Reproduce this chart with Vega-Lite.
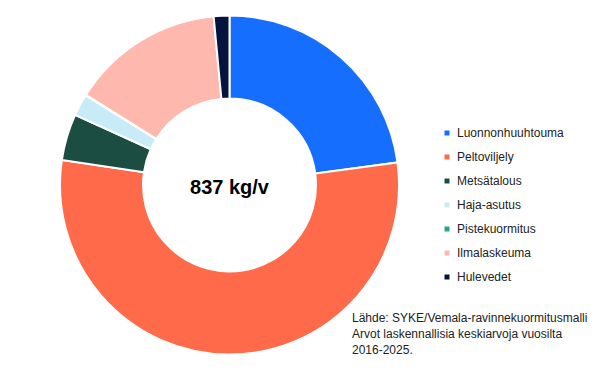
{
  "$schema": "https://vega.github.io/schema/vega-lite/v6.json",
  "width": 459,
  "height": 370,
  "autosize": {"type": "none"},
  "padding": {"left": 0, "top": 0, "right": 141, "bottom": 3},
  "background": "white",
  "config": {"view": {"stroke": null}, "font": "Liberation Sans"},
  "layer": [
    {
      "data": {
        "values": [
          {"lahde": "Luonnonhuuhtouma", "kg": 191.5, "ord": 1},
          {"lahde": "Peltoviljely", "kg": 456, "ord": 2},
          {"lahde": "Metsätalous", "kg": 37, "ord": 3},
          {"lahde": "Haja-asutus", "kg": 17.5, "ord": 4},
          {"lahde": "Pistekuormitus", "kg": 0.5, "ord": 5},
          {"lahde": "Ilmalaskeuma", "kg": 122, "ord": 6},
          {"lahde": "Hulevedet", "kg": 12.5, "ord": 7}
        ]
      },
      "mark": {"type": "arc", "outerRadius": 169.5, "innerRadius": 86.5, "stroke": "white", "strokeWidth": 2},
      "encoding": {
        "theta": {"field": "kg", "type": "quantitative", "stack": true},
        "order": {"field": "ord", "type": "quantitative"},
        "color": {
          "field": "lahde",
          "type": "nominal",
          "sort": ["Luonnonhuuhtouma", "Peltoviljely", "Metsätalous", "Haja-asutus", "Pistekuormitus", "Ilmalaskeuma", "Hulevedet"],
          "scale": {
            "domain": ["Luonnonhuuhtouma", "Peltoviljely", "Metsätalous", "Haja-asutus", "Pistekuormitus", "Ilmalaskeuma", "Hulevedet"],
            "range": ["#166EFF", "#FF6B4A", "#1B4D42", "#C8EBF8", "#2AA58A", "#FFB8AE", "#04143F"]
          },
          "legend": {
            "title": null,
            "orient": "none",
            "legendX": 441,
            "legendY": 127,
            "padding": 0,
            "symbolType": "square",
            "symbolSize": 25,
            "symbolStrokeWidth": 0,
            "labelFontSize": 12,
            "labelColor": "#222222",
            "labelFont": "Liberation Sans",
            "labelOffset": 4,
            "rowPadding": 12
          }
        }
      }
    },
    {
      "data": {"values": [{"label": "837 kg/v"}]},
      "mark": {"type": "text", "x": {"expr": "width/2"}, "y": {"expr": "height/2 + 3"}, "fontSize": 20, "fontWeight": "bold", "color": "#000000", "align": "center", "baseline": "middle"},
      "encoding": {"text": {"field": "label", "type": "nominal"}}
    },
    {
      "data": {"values": [{"note": "Lähde: SYKE/Vemala-ravinnekuormitusmalli|Arvot laskennallisia keskiarvoja vuosilta|2016-2025."}]},
      "mark": {"type": "text", "x": 352, "y": 313, "fontSize": 12, "color": "#222222", "align": "left", "baseline": "top", "lineBreak": "|", "lineHeight": 16},
      "encoding": {"text": {"field": "note", "type": "nominal"}}
    }
  ]
}
